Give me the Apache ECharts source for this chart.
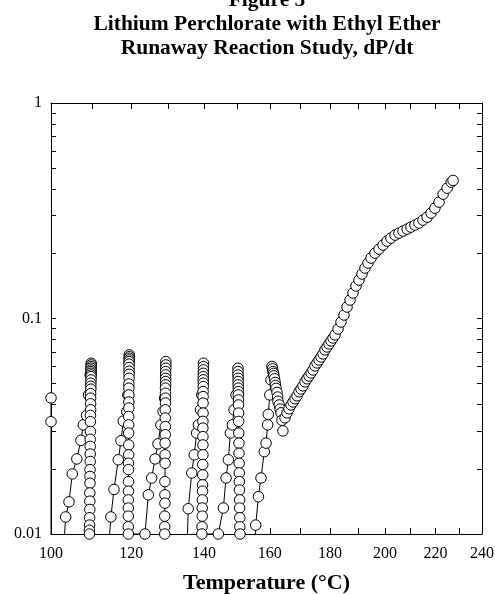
<!DOCTYPE html>
<html>
<head>
<meta charset="utf-8">
<title>Lithium Perchlorate with Ethyl Ether - dP/dt</title>
<script src="https://cdn.jsdelivr.net/npm/echarts@6/dist/echarts.min.js"></script>
<style>
    html, body { margin: 0; padding: 0; background: #fff; }
    #chart { width: 495px; height: 594px; }
</style>
</head>
<body>
<div id="chart"></div>
<script>
    // [temperature (C), dP/dt], one array per heat-wait-search step
    var hold100 = [[100.0, 0.0428], [100.0, 0.0332], [100.0, 0.008]];
    var step110 = [[102.9, 0.008], [103.5, 0.0120], [104.3, 0.0141], [105.1, 0.0190], [106.2, 0.0223], [107.2, 0.0272],
        [107.8, 0.0321], [108.6, 0.0355], [109.1, 0.0442], [109.5, 0.0547],
        [109.75, 0.0620], [109.75, 0.0609], [109.75, 0.0598], [109.7, 0.0588], [109.7, 0.0577], [109.7, 0.0567],
        [109.7, 0.0557], [109.7, 0.0547], [109.7, 0.0537], [109.7, 0.0519], [109.65, 0.0501], [109.65, 0.0485],
        [109.65, 0.0470], [109.6, 0.0448], [109.6, 0.0427], [109.6, 0.0402], [109.6, 0.0377], [109.55, 0.0355],
        [109.55, 0.0332], [109.55, 0.0299], [109.5, 0.0275], [109.5, 0.0255], [109.5, 0.0235], [109.5, 0.0217],
        [109.45, 0.0199], [109.45, 0.0185], [109.45, 0.0172], [109.4, 0.0155], [109.4, 0.0142], [109.4, 0.0130],
        [109.35, 0.0119], [109.35, 0.0110], [109.3, 0.0104], [109.3, 0.0100], [109.3, 0.008]];
    var step120 = [[114.0, 0.008], [114.7, 0.0120], [115.5, 0.0161], [116.6, 0.0221], [117.3, 0.0271], [117.9, 0.0334],
        [118.8, 0.0370], [119.1, 0.0442],
        [119.45, 0.0678], [119.45, 0.0665], [119.45, 0.0654], [119.45, 0.0642], [119.4, 0.0630], [119.4, 0.0614],
        [119.4, 0.0592], [119.4, 0.0569], [119.4, 0.0551], [119.4, 0.0528], [119.35, 0.0497], [119.35, 0.0475],
        [119.35, 0.0442], [119.35, 0.0410], [119.35, 0.0384], [119.3, 0.0351], [119.3, 0.0321], [119.3, 0.0294],
        [119.3, 0.0259], [119.3, 0.0233], [119.25, 0.0213], [119.25, 0.0199], [119.25, 0.0175], [119.25, 0.0158],
        [119.2, 0.0144], [119.2, 0.0132], [119.2, 0.0121], [119.2, 0.0108], [119.2, 0.0100]];
    var step130 = [[123.6, 0.0100], [124.5, 0.0152], [125.4, 0.0182], [126.3, 0.0223], [127.1, 0.0262], [127.9, 0.0321],
        [128.5, 0.0370], [128.9, 0.0427],
        [129.25, 0.0631], [129.25, 0.0609], [129.25, 0.0588], [129.2, 0.0567], [129.2, 0.0547], [129.2, 0.0528],
        [129.2, 0.0510], [129.2, 0.0492], [129.15, 0.0475], [129.15, 0.0450], [129.15, 0.0427], [129.15, 0.0405],
        [129.1, 0.0377], [129.1, 0.0345], [129.1, 0.0315], [129.1, 0.0289], [129.05, 0.0264], [129.05, 0.0233],
        [129.05, 0.0213], [129.0, 0.0175], [129.0, 0.0152], [129.0, 0.0139], [128.95, 0.0121], [128.95, 0.0108],
        [128.95, 0.0100], [128.95, 0.008]];
    var step140 = [[135.1, 0.008], [135.5, 0.0131], [136.5, 0.0192], [137.2, 0.0233], [137.9, 0.0294], [138.4, 0.0321],
        [139.0, 0.0377], [139.4, 0.0442],
        [139.85, 0.0620], [139.85, 0.0598], [139.85, 0.0577], [139.8, 0.0557], [139.8, 0.0537], [139.8, 0.0519],
        [139.8, 0.0501], [139.8, 0.0483], [139.75, 0.0458], [139.75, 0.0434], [139.75, 0.0405], [139.75, 0.0364],
        [139.7, 0.0333], [139.7, 0.0310], [139.7, 0.0283], [139.7, 0.0259], [139.7, 0.0233], [139.65, 0.0210],
        [139.65, 0.0188], [139.6, 0.0169], [139.6, 0.0158], [139.55, 0.0144], [139.5, 0.0132], [139.5, 0.0121],
        [139.45, 0.0108], [139.4, 0.0100]];
    var step150 = [[144.2, 0.0100], [145.7, 0.0132], [146.5, 0.0182], [147.2, 0.0221], [147.8, 0.0294], [148.4, 0.0321],
        [148.9, 0.0377], [149.5, 0.0442],
        [150.1, 0.0588], [150.1, 0.0567], [150.1, 0.0547], [150.15, 0.0528], [150.15, 0.0510], [150.15, 0.0492],
        [150.2, 0.0475], [150.2, 0.0458], [150.2, 0.0442], [150.25, 0.0419], [150.25, 0.0397], [150.3, 0.0364],
        [150.3, 0.0333], [150.35, 0.0294], [150.4, 0.0264], [150.4, 0.0237], [150.45, 0.0213], [150.5, 0.0192],
        [150.5, 0.0175], [150.55, 0.0160], [150.6, 0.0144], [150.6, 0.0132], [150.65, 0.0119], [150.65, 0.0108],
        [150.7, 0.0100], [150.7, 0.008]];
    var step160 = [[155.1, 0.008], [155.55, 0.0110], [156.4, 0.0149], [157.2, 0.0182], [158.25, 0.0241], [158.8, 0.0264],
        [159.3, 0.0321], [159.5, 0.0359], [160.0, 0.0442], [160.35, 0.0519],
        [160.7, 0.0599], [160.85, 0.0584], [161.0, 0.0567], [161.2, 0.0556], [161.3, 0.0542], [161.5, 0.0525],
        [161.7, 0.0505], [161.8, 0.0489], [162.0, 0.0474], [162.3, 0.0454], [162.5, 0.0432], [162.6, 0.0413],
        [163.0, 0.0397], [163.3, 0.0380], [163.6, 0.0365], [163.9, 0.0337], [164.2, 0.0301]];
    var runaway = [[164.9, 0.0346], [165.54, 0.0365], [166.19, 0.0381], [166.85, 0.0397], [167.51, 0.0410],
        [168.17, 0.0424], [168.83, 0.0438], [169.49, 0.0457], [170.15, 0.0471], [170.82, 0.0487], [171.49, 0.0508],
        [172.17, 0.0525], [172.84, 0.0541], [173.52, 0.0559], [174.19, 0.0577], [174.87, 0.0603], [175.55, 0.0622],
        [176.24, 0.0642], [176.92, 0.0663], [177.61, 0.0685], [178.3, 0.0715], [179.0, 0.0738], [179.69, 0.0762],
        [180.39, 0.0787], [181.09, 0.0812], [181.79, 0.0839], [182.85, 0.0894], [183.9, 0.0963], [184.97, 0.1038],
        [186.05, 0.1130], [187.12, 0.1218], [188.2, 0.1313], [189.28, 0.1415], [190.37, 0.1508], [191.47, 0.1608],
        [192.57, 0.1714], [193.68, 0.1808], [194.8, 0.1907], [196.28, 0.2011], [197.8, 0.2099], [199.3, 0.2191],
        [200.8, 0.2287], [202.3, 0.2360], [203.9, 0.2437], [205.4, 0.2490], [207.0, 0.2544], [208.6, 0.2598],
        [210.1, 0.2655], [211.7, 0.2713], [213.3, 0.2771], [214.9, 0.2861], [216.6, 0.2954], [218.2, 0.3083],
        [219.8, 0.3252], [221.5, 0.3467], [223.2, 0.3775], [224.9, 0.4025], [226.6, 0.4291], [227.4, 0.4372]];

    var xTickTemps = [100, 110, 120, 130, 140, 150, 160, 170, 180, 190, 200, 210, 220, 230, 240];
    var xLabelTemps = [100, 120, 140, 160, 180, 200, 220, 240];
    var yTickValues = [0.01, 0.02, 0.03, 0.04, 0.05, 0.06, 0.07, 0.08, 0.09,
        0.1, 0.2, 0.3, 0.4, 0.5, 0.6, 0.7, 0.8, 0.9, 1];
    var yLabelValues = [0.01, 0.1, 1];

    // the temperature axis is reciprocal (-1000/T in kelvin), dP/dt axis is log10
    function toX(t) { return -1000 / (t + 273.15); }
    function fromX(x) { return -1000 / x - 273.15; }
    function toY(v) { return Math.log10(v); }

    var points = [].concat(hold100, step110, step120, step130, step140, step150, step160, runaway)
        .map(function (p) { return [toX(p[0]), toY(p[1])]; });

    var serif = 'Liberation Serif';
    var black = '#000';

    function xAxis(pos, labels) {
        return {
            type: 'value',
            position: pos,
            min: toX(100),
            max: toX(240),
            name: labels ? 'Temperature (°C)' : '',
            nameLocation: 'middle',
            nameGap: 38,
            nameTextStyle: { fontFamily: serif, fontWeight: 'bold', fontSize: 22, color: black },
            axisLine: { show: true, onZero: false, lineStyle: { color: black, width: 1 } },
            axisTick: { show: true, inside: true, length: 6, lineStyle: { color: black },
                customValues: xTickTemps.map(toX) },
            axisLabel: { show: labels, margin: 12, fontFamily: serif, fontSize: 16, color: black,
                customValues: xLabelTemps.map(toX),
                formatter: function (v) { return String(Math.round(fromX(v))); } },
            splitLine: { show: false }
        };
    }

    function yAxis(pos, labels) {
        return {
            type: 'value',
            position: pos,
            min: -2,
            max: 0,
            axisLine: { show: true, onZero: false, lineStyle: { color: black, width: 1 } },
            axisTick: { show: true, inside: true, length: 5, lineStyle: { color: black },
                customValues: yTickValues.map(toY) },
            axisLabel: { show: labels, margin: 9, fontFamily: serif, fontSize: 16, color: black,
                customValues: yLabelValues.map(toY),
                formatter: function (v) { return String(+Math.pow(10, v).toFixed(2)); } },
            splitLine: { show: false }
        };
    }

    var chart = echarts.init(document.getElementById('chart'));
    var option = {
        animation: false,
        backgroundColor: '#fff',
        title: {
            text: 'Figure 5\nLithium Perchlorate with Ethyl Ether\nRunaway Reaction Study, dP/dt',
            left: 267,
            top: -12,
            padding: 0,
            textAlign: 'center',
            textStyle: { fontFamily: serif, fontWeight: 'bold', fontSize: 21.5, lineHeight: 24, color: black }
        },
        grid: { left: 51, right: 13, top: 103, bottom: 60, containLabel: false, outerBoundsMode: 'none' },
        xAxis: [xAxis('bottom', true), xAxis('top', false)],
        yAxis: [yAxis('left', true), yAxis('right', false)],
        series: [{
            type: 'line',
            data: points,
            symbol: 'circle',
            symbolSize: 10.5,
            showAllSymbol: true,
            clip: true,
            silent: true,
            itemStyle: { color: '#fff', borderColor: black, borderWidth: 1 },
            lineStyle: { color: black, width: 1 }
        }]
    };
    chart.setOption(option);
</script>
</body>
</html>
